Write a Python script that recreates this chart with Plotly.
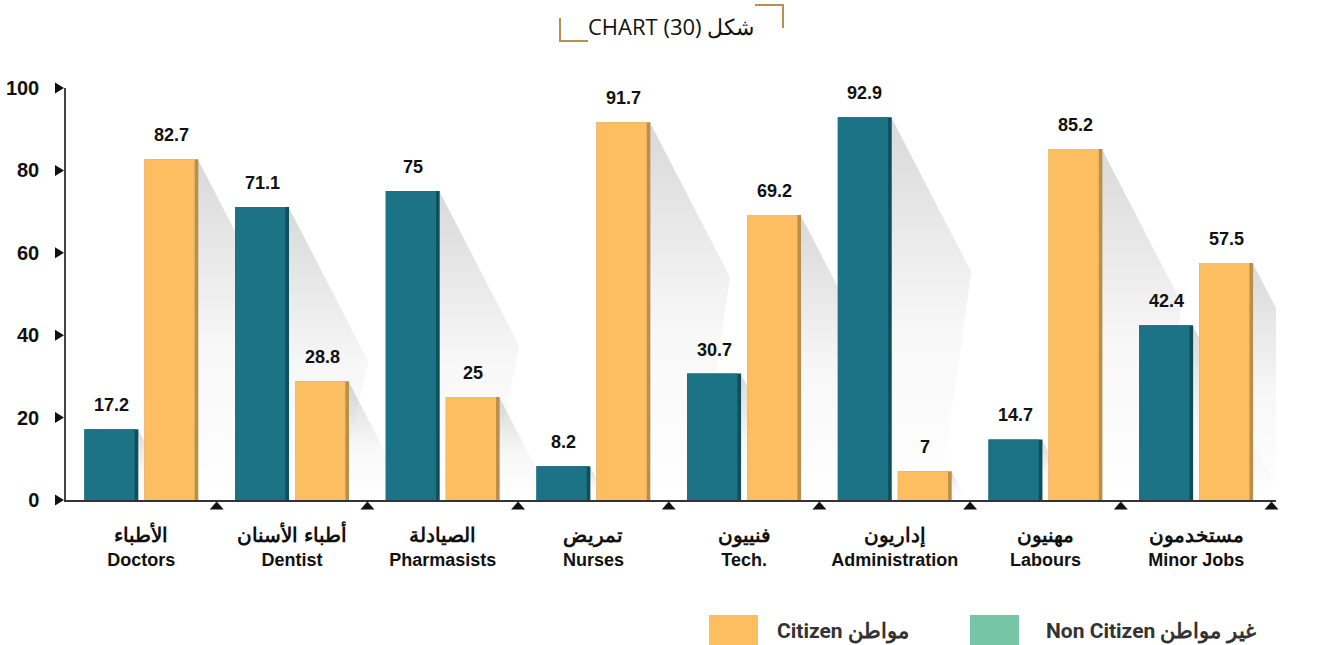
import plotly.graph_objects as go

categories_ar = ["الأطباء", "أطباء الأسنان", "الصيادلة", "تمريض", "فنييون", "إداريون", "مهنيون", "مستخدمون"]
categories_en = ["Doctors", "Dentist", "Pharmasists", "Nurses", "Tech.", "Administration", "Labours", "Minor Jobs"]
non_citizen = [17.2, 71.1, 75, 8.2, 30.7, 92.9, 14.7, 42.4]
citizen = [82.7, 28.8, 25, 91.7, 69.2, 7, 85.2, 57.5]
y_ticks = [0, 20, 40, 60, 80, 100]

TEAL, TEAL_D = "#1c7386", "#0e4f5d"
ORANGE, ORANGE_D = "#fdbd61", "#b98f4a"
LEG_GREEN = "#76c5a6"
GOLD = "#b8914a"

W, H = 1336, 645
L, R, T, B = 66, 60, 88, 145
pw, ph = W - L - R, H - T - B
XR = [-0.5, 7.53]
YR = [0, 100]

BW = 0.358      # bar width (category units)
EDGE = 0.024    # dark right strip
OFF_N = -0.378
OFF_C = 0.02
# shadow geometry (category / value units)
DXC, DYC, DXB = 0.531, 37.6, 0.318

x = list(range(len(categories_en)))
fig = go.Figure()

# --- shadows (on base axes, drawn below the bars) ---
for vals, off in ((non_citizen, OFF_N), (citizen, OFF_C)):
    for i, v in enumerate(vals):
        xr = i + off + BW - 0.003
        if v > DYC:
            xs = [xr, xr + DXC, xr + DXB, xr, xr]
            ys = [v, v - DYC, 0, 0, v]
        else:
            xs = [xr, xr + DXC / DYC * v, xr, xr]
            ys = [v, 0, 0, v]
        fig.add_trace(go.Scatter(
            x=xs, y=ys, mode="lines", fill="toself", line=dict(width=0, color="rgba(0,0,0,0)"),
            fillgradient=dict(type="vertical",
                              colorscale=[[0, "rgba(0,0,0,0.0)"], [0.45, "rgba(0,0,0,0.03)"],
                                          [1, "rgba(0,0,0,0.15)"]]),
            showlegend=False, hoverinfo="skip", xaxis="x", yaxis="y"))

# --- bars (on overlaying axes, drawn above shadows) ---
def add_bar(vals, off, col, dcol, name):
    fig.add_trace(go.Bar(x=x, y=vals, offset=off, width=BW, marker=dict(color=dcol, line=dict(width=0)),
                         showlegend=False, hoverinfo="skip", xaxis="x2", yaxis="y2"))
    fig.add_trace(go.Bar(x=x, y=vals, offset=off, width=BW - EDGE, marker=dict(color=col, line=dict(width=0)),
                         name=name, showlegend=False, xaxis="x2", yaxis="y2"))

add_bar(non_citizen, OFF_N, TEAL, TEAL_D, "Non Citizen")
add_bar(citizen, OFF_C, ORANGE, ORANGE_D, "Citizen")

# value labels
for vals, off in ((non_citizen, OFF_N), (citizen, OFF_C)):
    for i, v in enumerate(vals):
        fig.add_annotation(x=i + off + BW / 2, y=v, text=f"<b>{v:g}</b>", showarrow=False,
                           yanchor="bottom", yshift=12,
                           font=dict(family="Liberation Sans", size=18, color="#111"))

# helpers for pixel <-> paper
def px2paper(px, py):
    return (px - L) / pw, 1 - (py - T) / ph

def ppath(pts, close=False):
    s = []
    for k, (px, py) in enumerate(pts):
        a, b = px2paper(px, py)
        s.append(("M " if k == 0 else "L ") + f"{a:.5f},{b:.5f}")
    return " ".join(s) + (" Z" if close else "")

def data_x_px(xv):
    return L + (xv - XR[0]) / (XR[1] - XR[0]) * pw

def data_y_px(yv):
    return T + (1 - (yv - YR[0]) / (YR[1] - YR[0])) * ph

shapes = []
# y tick triangles
for t in y_ticks:
    yp = data_y_px(t)
    shapes.append(dict(type="path", xref="paper", yref="paper",
                       path=ppath([(L - 11, yp - 5.5), (L - 2, yp), (L - 11, yp + 5.5)], True),
                       fillcolor="#111", line=dict(width=0)))
# category boundary triangles
for i in x:
    xp = data_x_px(i + 0.5)
    yb = data_y_px(0)
    shapes.append(dict(type="path", xref="paper", yref="paper",
                       path=ppath([(xp - 7, yb + 9.5), (xp, yb + 1.5), (xp + 7, yb + 9.5)], True),
                       fillcolor="#111", line=dict(width=0)))

# title brackets
shapes.append(dict(type="path", xref="paper", yref="paper", path=ppath([(755, 5), (783, 5), (783, 28)]),
                   line=dict(color=GOLD, width=2)))
shapes.append(dict(type="path", xref="paper", yref="paper", path=ppath([(560, 18), (560, 41), (588, 41)]),
                   line=dict(color=GOLD, width=2)))

fig.add_annotation(x=px2paper(671, 0)[0], y=px2paper(0, 26)[1], xref="paper", yref="paper",
                   xanchor="center", yanchor="middle",
                   text="CHART (30) شكل", showarrow=False,
                   font=dict(family="Open Sans", size=22, color="#111"))

# legend
for (x0, x1, col, tx, txt) in ((709, 758, ORANGE, 775, "Citizen مواطن"),
                               (970, 1019, LEG_GREEN, 1044, "Non Citizen غير مواطن")):
    a0, b0 = px2paper(x0, 615)
    a1, b1 = px2paper(x1, 645)
    shapes.append(dict(type="rect", xref="paper", yref="paper", x0=a0, x1=a1, y0=b1, y1=b0,
                       fillcolor=col, line=dict(width=0)))
    ta, tb = px2paper(tx, 631)
    fig.add_annotation(x=ta, y=tb, xref="paper", yref="paper", xanchor="left", yanchor="middle",
                       text=f"<b>{txt}</b>", showarrow=False,
                       font=dict(family="Roboto", size=21, color="#333"))

fig.update_layout(
    width=W, height=H, margin=dict(l=L, r=R, t=T, b=B, autoexpand=False),
    barmode="overlay", plot_bgcolor="white", paper_bgcolor="white",
    shapes=shapes, showlegend=False,
    xaxis=dict(range=XR, tickvals=x, automargin=False,
               ticktext=[f"<b><span style='font-size:20px'>{a}</span></b><br><b>{e}</b>"
                         for a, e in zip(categories_ar, categories_en)],
               showline=True, linecolor="#333", linewidth=1.5, showgrid=False, zeroline=False,
               ticks="", ticklabelstandoff=19,
               tickfont=dict(family="Liberation Sans", size=18, color="#111")),
    yaxis=dict(range=YR, tickvals=y_ticks, automargin=False, showline=True, linecolor="#444", linewidth=1.5,
               showgrid=False, zeroline=False, ticks="", ticklabelstandoff=21,
               tickfont=dict(family="Liberation Sans", size=20, color="#111", weight="bold")),
    xaxis2=dict(range=XR, overlaying="x", visible=False),
    yaxis2=dict(range=YR, overlaying="y", visible=False),
)

fig.write_html("out.html", config={"displayModeBar": False},
               post_script="document.body.style.margin='0';document.body.style.overflow='hidden';")
